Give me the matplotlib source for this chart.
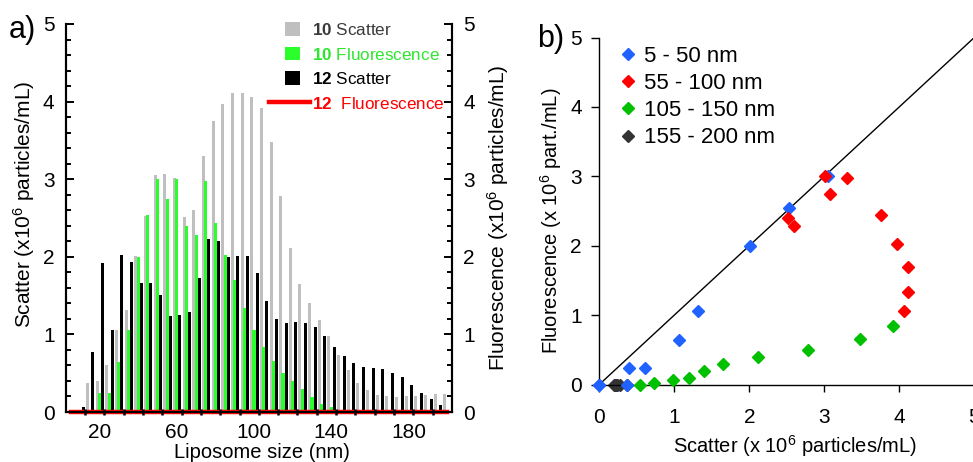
import numpy as np
import matplotlib
matplotlib.use("Agg")
import matplotlib.pyplot as plt
from matplotlib.legend_handler import HandlerLine2D

plt.rcParams['font.family'] = ['Liberation Sans', 'DejaVu Sans']
plt.rcParams['mathtext.fontset'] = 'custom'
plt.rcParams['mathtext.rm'] = 'Liberation Sans'
plt.rcParams['mathtext.bf'] = 'Liberation Sans:bold'
plt.rcParams['mathtext.it'] = 'Liberation Sans:italic'

# liposome size bins (nm)
sizes = [5, 10, 15, 20, 25, 30, 35, 40, 45, 50,
         55, 60, 65, 70, 75, 80, 85, 90, 95, 100,
         105, 110, 115, 120, 125, 130, 135, 140, 145, 150,
         155, 160, 165, 170, 175, 180, 185, 190, 195, 200]
# x10^6 particles/mL
scatter10 = [0, 0, 0.37, 0.40, 0.61, 1.06, 1.31, 2.01, 2.53, 3.05,
             3.07, 3.01, 2.51, 2.60, 3.30, 3.75, 3.97, 4.11, 4.11, 4.06,
             3.92, 3.48, 2.78, 2.11, 1.65, 1.40, 1.19, 0.98, 0.73, 0.54,
             0.37, 0.28, 0.22, 0.21, 0.19, 0.21, 0.21, 0.22, 0.23, 0.23]
fluor10 = [0, 0, 0, 0.24, 0.24, 0.64, 1.06, 2.00, 2.54, 3.00,
           2.74, 3.00, 2.40, 2.28, 2.98, 2.44, 2.02, 1.70, 1.34, 1.06,
           0.84, 0.66, 0.50, 0.40, 0.30, 0.19, 0.10, 0.06, 0.02, 0,
           0, 0, 0, 0, 0, 0, 0, 0, 0, 0]
scatter12 = [0, 0.07, 0.77, 1.92, 1.06, 2.02, 1.93, 1.66, 1.66, 1.51,
             1.24, 1.25, 1.29, 1.73, 2.23, 2.20, 2.00, 2.01, 2.01, 1.79,
             1.43, 1.20, 1.15, 1.16, 1.15, 1.10, 0.98, 0.84, 0.72, 0.63,
             0.58, 0.57, 0.55, 0.50, 0.45, 0.35, 0.25, 0.17, 0.09, 0]
fluor12 = [0] * 40

size_ranges = ['5 - 50 nm', '55 - 100 nm', '105 - 150 nm', '155 - 200 nm']
range_colors = ['#1f62ff', '#ff0000', '#00c000', '#333333']

x = np.array(sizes)


class LongLine(HandlerLine2D):
    # red legend line is drawn longer than the bar squares
    def create_artists(self, legend, orig_handle, xdescent, ydescent,
                       width, height, fontsize, trans):
        return super().create_artists(legend, orig_handle, xdescent + 1.13 * width,
                                      ydescent, 2.86 * width, height, fontsize, trans)


fig = plt.figure(figsize=(9.73, 4.62), dpi=100)

# ---- a) histogram
ax = fig.add_axes([65.7 / 973, 50 / 462, 386.3 / 973, 388 / 462])
ax2 = ax.twinx()

b1 = ax.bar(x - 1.2, scatter10, width=1.55, color='#bfbfbf', zorder=1)
b2 = ax.bar(x + 0.03, fluor10, width=1.66, color='#2bff2b', zorder=1.1)
b3 = ax.bar(x + 1.63, scatter12, width=1.55, color='black', zorder=1.2)
l4, = ax.plot(x, fluor12, color='#ff0000', lw=3.2, solid_capstyle='projecting',
              clip_on=False, zorder=2)

ax.set_xlim(2.5, 202.5)
ax.set_ylim(0, 5)
ax2.set_ylim(0, 5)
ax.set_axisbelow(False)

for a in (ax, ax2):
    a.spines['top'].set_visible(False)
    for s in ('left', 'right', 'bottom'):
        a.spines[s].set_linewidth(1.5)
    a.set_yticks([0, 1, 2, 3, 4, 5])
    a.set_yticks(np.arange(0, 5.01, 0.2), minor=True)
    a.tick_params(axis='y', which='major', direction='in', length=5.5, width=1.4,
                  labelsize=15, pad=8)
    a.tick_params(axis='y', which='minor', direction='in', length=3.5, width=1.4)

ax.set_xticks([20, 60, 100, 140, 180])
ax.set_xticks(np.arange(12.5, 200, 10), minor=True)
ax.tick_params(axis='x', which='major', length=0, labelsize=15, pad=8)
ax.tick_params(axis='x', which='minor', direction='inout', length=4.5, width=1.8)

ax.set_xlabel('Liposome size (nm)', fontsize=14.5)
ax.xaxis.set_label_coords(0.508, -0.08)
ax.set_ylabel('Scatter (x10$^6$ particles/mL)', fontsize=15)
ax.yaxis.set_label_coords(-0.074, 0.534)
ax2.set_ylabel('Fluorescence (x10$^6$ particles/mL)', fontsize=15)
ax2.yaxis.set_label_coords(1.085, 0.5)

leg = ax.legend([b1, b2, b3, l4],
                ['$\\mathbf{10}$ Scatter', '$\\mathbf{10}$ Fluorescence',
                 '$\\mathbf{12}$ Scatter', '$\\mathbf{12}$  Fluorescence'],
                handler_map={l4: LongLine()},
                loc='upper left', bbox_to_anchor=(0.5677, 1.005), frameon=False,
                fontsize=12.3, handlelength=0.85, handleheight=0.85,
                handletextpad=0.72, labelspacing=0.5, borderpad=0, borderaxespad=0)
for t, c in zip(leg.get_texts(), ['#3a3a3a', '#2ee62e', 'black', '#ff0000']):
    t.set_color(c)

# ---- b) fluorescence vs scatter
bx = fig.add_axes([599.3 / 973, 77.5 / 462, 375 / 973, 347 / 462])
bx.axline((0, 0), slope=1, color='black', lw=1.0, zorder=1)
handles = []
for i, (lab, col) in enumerate(zip(size_ranges, range_colors)):
    h, = bx.plot(scatter10[i * 10:(i + 1) * 10], fluor10[i * 10:(i + 1) * 10],
                 'D', ms=6, color=col, label=lab, clip_on=False,
                 zorder=3 if i < 3 else 2.5)
    handles.append(h)

bx.set_xlim(0, 5)
bx.set_ylim(0, 5)
bx.spines['top'].set_visible(False)
bx.spines['right'].set_visible(False)
bx.spines['left'].set_linewidth(1.0)
bx.spines['bottom'].set_linewidth(1.0)
bx.set_xticks([0, 1, 2, 3, 4, 5])
bx.set_yticks([0, 1, 2, 3, 4, 5])
bx.tick_params(axis='x', direction='out', length=5, width=1, labelsize=15, pad=12)
bx.tick_params(axis='y', direction='out', length=5.5, width=1, labelsize=15, pad=7)

bx.set_xlabel('Scatter (x 10$^6$ particles/mL)', fontsize=14.5)
bx.xaxis.set_label_coords(0.522, -0.14)
bx.set_ylabel('Fluorescence (x 10$^6$ part./mL)', fontsize=14.5)
bx.yaxis.set_label_coords(-0.094, 0.471)

bx.legend(handles=handles, loc='upper left', bbox_to_anchor=(0.054, 0.976),
          frameon=False, fontsize=16, handlelength=0.8, handletextpad=0.3,
          labelspacing=0.28, borderpad=0, borderaxespad=0)

fig.text(9 / 973, 1 - 38 / 462, 'a)', fontsize=22, va='baseline')
fig.text(537 / 973, 1 - 47 / 462, 'b)', fontsize=22, va='baseline')

fig.savefig('out.png', dpi=100)
